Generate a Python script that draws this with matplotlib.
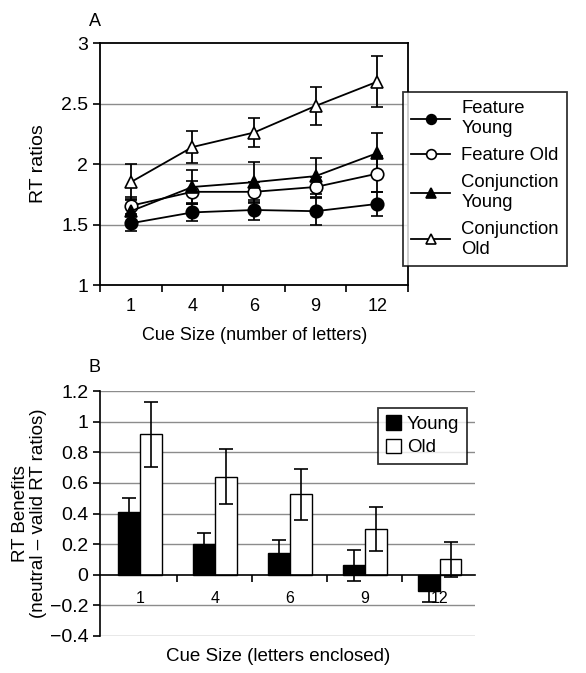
import numpy as np
import matplotlib
matplotlib.use("Agg")
import matplotlib.pyplot as plt
from matplotlib.lines import Line2D
from matplotlib.patches import Patch

plt.rcParams['font.family'] = ['Liberation Sans', 'DejaVu Sans']

###### Data ####################################################################
cue_sizes = ['1', '4', '6', '9', '12']

# panel A: RT ratios
feat_young = [1.51, 1.60, 1.62, 1.61, 1.67]
feat_young_err = [0.06, 0.07, 0.08, 0.11, 0.10]
feat_old = [1.655, 1.77, 1.77, 1.81, 1.92]
feat_old_err = [0.07, 0.09, 0.08, 0.08, 0.15]
conj_young = [1.61, 1.81, 1.85, 1.90, 2.09]
conj_young_err = [0.10, 0.14, 0.17, 0.15, 0.17]
conj_old = [1.85, 2.14, 2.26, 2.48, 2.68]
conj_old_err = [0.15, 0.13, 0.12, 0.16, 0.21]

# panel B: RT benefits
ben_young = [0.41, 0.20, 0.145, 0.062, -0.107]
ben_young_err = [0.09, 0.07, 0.08, 0.10, 0.07]
ben_old = [0.916, 0.64, 0.525, 0.297, 0.10]
ben_old_err = [0.21, 0.18, 0.165, 0.145, 0.115]

W, H = 586, 673
fig = plt.figure(figsize=(W / 100, H / 100), dpi=100)
x = np.arange(len(cue_sizes))

###### Panel A #################################################################
axA = fig.add_axes([100 / W, 1 - 285 / H, 308 / W, 242 / H])
series = [
    (feat_young, feat_young_err, 'o', 'black', 'Feature\nYoung'),
    (feat_old, feat_old_err, 'o', 'white', 'Feature Old'),
    (conj_young, conj_young_err, '^', 'black', 'Conjunction\nYoung'),
    (conj_old, conj_old_err, '^', 'white', 'Conjunction\nOld'),
]
handles = []
for vals, err, mk, fc, lab in series:
    axA.errorbar(x, vals, yerr=err, color='black', lw=1.3, elinewidth=1.3,
                 capsize=4.5, capthick=1.3, marker=mk, ms=9, mfc=fc,
                 mec='black', mew=1.2, zorder=3)
    handles.append(Line2D([0], [0], color='black', lw=1.3, marker=mk, ms=7,
                          mfc=fc, mec='black', mew=1.2, label=lab))

axA.set_xlim(-0.5, 4.5)
axA.set_ylim(1, 3)
axA.set_yticks([1, 1.5, 2, 2.5, 3])
axA.set_yticklabels(['1', '1.5', '2', '2.5', '3'])
axA.set_xticks(x)
axA.set_xticklabels(cue_sizes)
axA.set_xticks(np.arange(-0.5, 5, 1), minor=True)
axA.tick_params(axis='x', which='major', length=0, labelsize=13, pad=9)
axA.tick_params(axis='x', which='minor', length=5, width=1.2, direction='out')
axA.tick_params(axis='y', length=5, width=1.2, labelsize=14)
for y in [1.5, 2, 2.5]:
    axA.axhline(y, color='#8c8c8c', lw=1, zorder=1)
for s in axA.spines.values():
    s.set_linewidth(1.3)
axA.set_ylabel('RT ratios', fontsize=14)
axA.yaxis.set_label_coords(-0.172, 0.5)
axA.set_xlabel('Cue Size (number of letters)', fontsize=13)
axA.xaxis.set_label_coords(0.503, -0.175)

legA = fig.legend(handles=handles, loc='upper left',
                  bbox_to_anchor=(403 / W, 1 - 92 / H), borderaxespad=0,
                  fontsize=13.3, frameon=True, fancybox=False,
                  edgecolor='black', handlelength=2.1, labelspacing=0.55,
                  borderpad=0.45, handletextpad=0.6)
legA.get_frame().set_linewidth(1.3)
legA.set_zorder(5)

fig.text(95 / W, 1 - 22 / H, 'A', fontsize=13, ha='center', va='center')

###### Panel B #################################################################
axB = fig.add_axes([100 / W, 1 - 636 / H, 375 / W, 245 / H])
w = 0.29
axB.bar(x - w / 2, ben_young, w, color='black', edgecolor='black', lw=1,
        label='Young', zorder=3)
axB.bar(x + w / 2, ben_old, w, color='white', edgecolor='black', lw=1,
        label='Old', zorder=3)
axB.errorbar(x - w / 2, ben_young, yerr=ben_young_err, fmt='none',
             ecolor='black', elinewidth=1.2, capsize=5, capthick=1.2, zorder=4)
axB.errorbar(x + w / 2, ben_old, yerr=ben_old_err, fmt='none',
             ecolor='black', elinewidth=1.2, capsize=5, capthick=1.2, zorder=4)

axB.set_xlim(-0.53, 4.47)
axB.set_ylim(-0.4, 1.2)
yt = [-0.4, -0.2, 0, 0.2, 0.4, 0.6, 0.8, 1, 1.2]
axB.set_yticks(yt)
axB.set_yticklabels(['\u22120.4', '\u22120.2', '0', '0.2', '0.4', '0.6',
                     '0.8', '1', '1.2'])
for y in yt:
    if y != 0:
        axB.axhline(y, color='#8c8c8c', lw=1, zorder=1)
axB.spines['top'].set_visible(False)
axB.spines['right'].set_visible(False)
axB.spines['bottom'].set_position(('data', 0))
axB.spines['bottom'].set_zorder(5)
for s in axB.spines.values():
    s.set_linewidth(1.2)
axB.set_xticks(x)
axB.set_xticklabels(cue_sizes)
axB.set_xticks(np.arange(0.5, 4.5, 1), minor=True)
axB.tick_params(axis='x', which='major', length=0, labelsize=11.5, pad=12)
axB.tick_params(axis='x', which='minor', length=5, width=1.2, direction='out')
axB.tick_params(axis='y', length=5, width=1.2, labelsize=14)
axB.set_ylabel('RT Benefits\n(neutral \u2013 valid RT ratios)', fontsize=13.5,
               linespacing=1.05)
axB.yaxis.set_label_coords(-0.141, 0.5)
axB.set_xlabel('Cue Size (letters enclosed)', fontsize=13.5)
axB.xaxis.set_label_coords(0.475, -0.05)

hB = [Patch(facecolor='black', edgecolor='black', label='Young'),
      Patch(facecolor='white', edgecolor='black', label='Old')]
legB = fig.legend(handles=hB, loc='upper left',
                  bbox_to_anchor=(378 / W, 1 - 408 / H), borderaxespad=0,
                  fontsize=13.5, frameon=True, fancybox=False,
                  edgecolor='black', handlelength=0.8, handleheight=0.8,
                  labelspacing=0.3, borderpad=0.4, handletextpad=0.35)
legB.get_frame().set_linewidth(1.3)

fig.text(95 / W, 1 - 368 / H, 'B', fontsize=13, ha='center', va='center')

fig.savefig('out.png', dpi=100)
